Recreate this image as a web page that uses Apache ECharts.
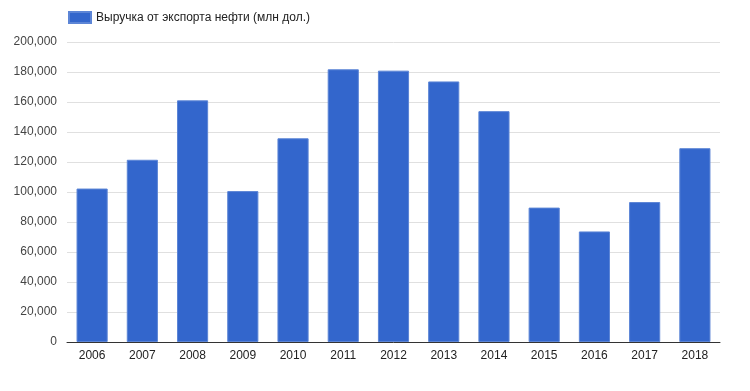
<!DOCTYPE html>
<html><head><meta charset="utf-8">
<script src="https://cdn.jsdelivr.net/npm/echarts@6/dist/echarts.min.js"></script>
<style>html,body{margin:0;padding:0;background:#fff}#c{width:750px;height:391px}</style>
</head><body><div id="c"></div>
<script>
const categories = ['2006','2007','2008','2009','2010','2011','2012','2013','2014','2015','2016','2017','2018'];
const seriesName = 'Выручка от экспорта нефти (млн дол.)';
const values = [102300, 121500, 161100, 100600, 135800, 181800, 180900, 173700, 153900, 89600, 73700, 93300, 129200];
const yTicks = [0, 20000, 40000, 60000, 80000, 100000, 120000, 140000, 160000, 180000, 200000];

const chart = echarts.init(document.getElementById('c'), null, {renderer:'canvas'});
chart.setOption({
  animation: false,
  textStyle: {fontFamily: 'Liberation Sans, Arial, sans-serif'},
  legend: {
    left: 63, top: 6, itemWidth: 22, itemHeight: 11, itemGap: 5,
    icon: 'rect',
    textStyle: {fontSize: 12, color: '#222', fontFamily: 'Liberation Sans, Arial, sans-serif'},
    data: [seriesName]
  },
  grid: {left: 67, right: 30, top: 42, bottom: 49, containLabel: false},
  xAxis: {
    type: 'category', data: categories,
    axisLine: {lineStyle: {color: '#333', width: 1}},
    axisTick: {show: false},
    axisLabel: {color: '#222', fontSize: 12, margin: 8}
  },
  yAxis: {
    type: 'value', min: yTicks[0], max: yTicks[yTicks.length-1], interval: 20000,
    axisLine: {show: false}, axisTick: {show: false},
    splitLine: {lineStyle: {color: '#e0e0e0', width: 1}},
    axisLabel: {color: '#444', fontSize: 12, margin: 10,
      formatter: v => v.toLocaleString('en-US')}
  },
  series: [{
    name: seriesName, type: 'bar', data: values, barWidth: '62%',
    itemStyle: {color: '#3366cc', borderColor: '#5c85d6', borderWidth: 1}
  }]
});
</script></body></html>
